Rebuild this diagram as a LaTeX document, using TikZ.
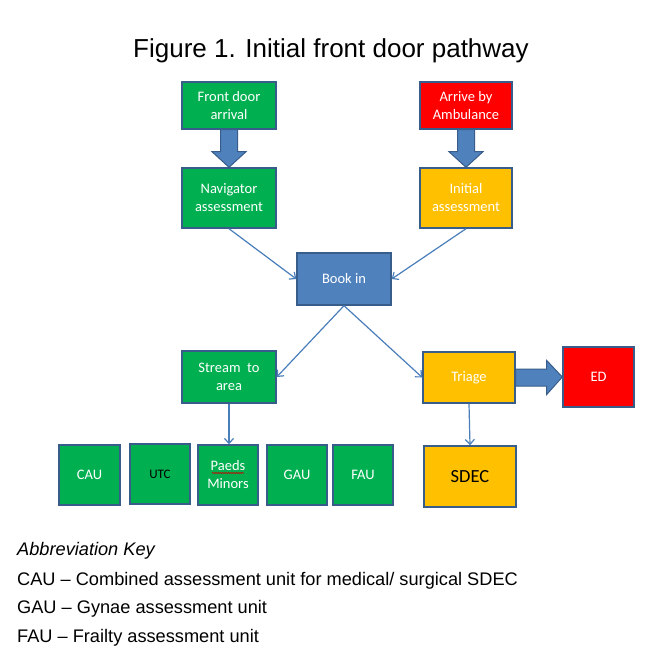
\documentclass[tikz,border=0pt]{standalone}
\usepackage{fontspec}
\setmainfont{Liberation Sans}
\newfontfamily\boxfont{Carlito}
\usetikzlibrary{arrows.meta,calc,decorations.pathmorphing}
\definecolor{pgreen}{HTML}{00B050}
\definecolor{pred}{HTML}{FF0000}
\definecolor{pamber}{HTML}{FFC000}
\definecolor{pblue}{HTML}{4F81BD}
\definecolor{pborder}{HTML}{385D8A}
\definecolor{parrow}{HTML}{4A7EBB}
\tikzset{
  box/.style={draw=pborder, line width=1.4pt, minimum width=#1, inner sep=0pt, align=center,
    font=\boxfont\fontsize{14.5}{18}\selectfont, text=white},
  gbox/.style={box=#1, fill=pgreen},
  rbox/.style={box=#1, fill=pred},
  abox/.style={box=#1, fill=pamber},
  bbox/.style={box=#1, fill=pblue},
  thin/.style={draw=parrow, line width=1.2pt, -{Straight Barb[length=5pt,width=9pt]}},
  blockarrow/.style={fill=pblue, draw=pborder, line width=1pt},
  keytext/.style={anchor=base west, inner sep=0pt, font=\fontsize{18.2}{22}\selectfont},
}
\begin{document}
\begin{tikzpicture}[x=1pt,y=-1pt]
\useasboundingbox (0,0) rectangle (657,667);
\fill[white] (0,0) rectangle (657,667);
% title
\node[anchor=base, inner sep=0pt, font=\fontsize{26}{30}\selectfont] (title) at (331,57) {Figure 1. Initial front door pathway};
% top row
\node[gbox=94pt, minimum height=47pt] (fd) at (229,105.5) {Front door\\arrival};
\node[rbox=92pt, minimum height=47pt] (amb) at (466,105.5) {Arrive by\\Ambulance};
\node[gbox=94pt, minimum height=60pt] (nav) at (229,198) {Navigator\\assessment};
\node[abox=92pt, minimum height=60pt] (init) at (466,198) {Initial\\assessment};
\node[bbox=94pt, minimum height=52pt] (book) at (344,279) {Book in};
\node[gbox=94pt, minimum height=52pt] (stream) at (229,377) {Stream~ to\\area};
\node[abox=92pt, minimum height=51pt] (triage) at (469,377.5) {Triage};
\node[rbox=71pt, minimum height=60pt] (ed) at (598.5,377) {ED};
\node[gbox=61pt, minimum height=60pt] (cau) at (89.5,475) {CAU};
\node[gbox=60pt, minimum height=60pt, text=black, font=\boxfont\fontsize{13}{15}\selectfont] (utc) at (160,474) {UTC};
\node[gbox=60pt, minimum height=60pt] (paeds) at (228,475) {Paeds\\Minors};
\node[gbox=60pt, minimum height=60pt] (gau) at (297,475) {GAU};
\node[gbox=60pt, minimum height=60pt] (fau) at (363,475) {FAU};
\node[abox=92pt, minimum height=61pt, text=black, font=\boxfont\fontsize{18.5}{22}\selectfont] (sdec) at (470,476.5) {SDEC};
% spell-check underline under Paeds
\draw[red!80!black, line width=0.5pt, decorate, decoration={snake, amplitude=0.6pt, segment length=2pt}]
  ($(paeds.center)+(-16,-2)$) -- ($(paeds.center)+(16,-2)$);
% block arrows
\draw[blockarrow] ($(fd.south)+(-8.5,0)$) -- ($(fd.south)+(8.5,0)$) -- ($(fd.south)+(8.5,22)$)
  -- ($(fd.south)+(17,22)$) -- (nav.north) -- ($(fd.south)+(-17,22)$) -- ($(fd.south)+(-8.5,22)$) -- cycle;
\draw[blockarrow] ($(amb.south)+(-8.5,0)$) -- ($(amb.south)+(8.5,0)$) -- ($(amb.south)+(8.5,22)$)
  -- ($(amb.south)+(17,22)$) -- (init.north) -- ($(amb.south)+(-17,22)$) -- ($(amb.south)+(-8.5,22)$) -- cycle;
\draw[blockarrow] ($(triage.east)+(0,-8.5)$) -- ($(triage.east)+(31,-8.5)$) -- ($(triage.east)+(31,-17)$)
  -- (ed.west) -- ($(triage.east)+(31,17)$) -- ($(triage.east)+(31,8.5)$) -- ($(triage.east)+(0,8.5)$) -- cycle;
% thin arrows
\draw[thin] (nav.south) -- (book.west);
\draw[thin] (init.south) -- (book.east);
\draw[thin] (book.south) -- (stream.east);
\draw[thin] (book.south) -- (triage.west);
\draw[thin] (stream.south) -- (stream.south |- paeds.north);
\draw[thin] (triage.south) -- (sdec.north);
% key
\node[keytext, font=\itshape\fontsize{18.2}{22}\selectfont] (k0) at (17,555) {Abbreviation Key};
\node[keytext] (k1) at (17,585) {CAU -- Combined assessment unit for medical/ surgical SDEC};
\node[keytext] (k2) at (17,613.5) {GAU -- Gynae assessment unit};
\node[keytext] (k3) at (17,642) {FAU -- Frailty assessment unit};
\end{tikzpicture}
\end{document}
